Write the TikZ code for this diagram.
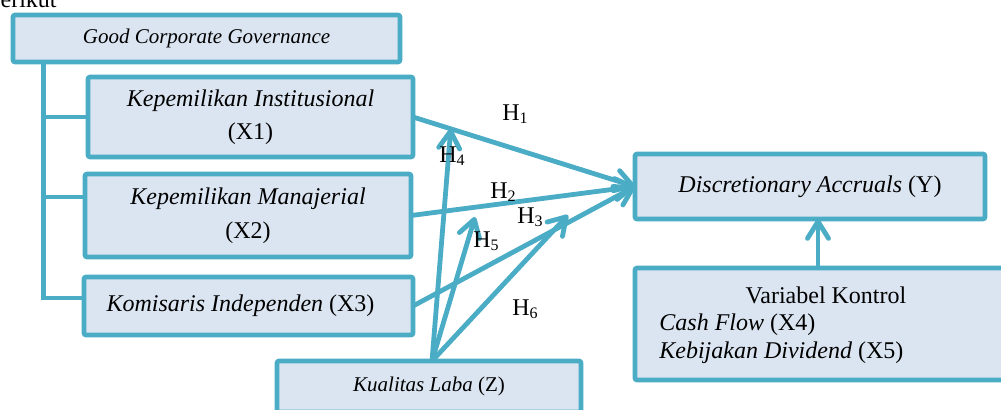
\documentclass[tikz,border=0pt]{standalone}
\usepackage{fontspec}
\setmainfont{Liberation Serif}
\usetikzlibrary{arrows.meta,calc}
\definecolor{bcol}{HTML}{4BACC6}
\definecolor{fcol}{HTML}{DBE5F1}
\begin{document}
\begin{tikzpicture}[x=0.5pt,y=-0.5pt,
 box/.style={draw=bcol, fill=fcol, line width=2.3pt, inner sep=0pt, outer sep=0pt, rounded corners=1pt, align=center, font=\fontsize{12}{16.75}\selectfont},
 smalltext/.style={font=\fontsize{10.5}{12}\selectfont},
 plain/.style={inner sep=0pt, font=\fontsize{12}{14}\selectfont},
 conn/.style={draw=bcol, line width=2.1pt},
 arr/.style={draw=bcol, line width=2.4pt, -{Straight Barb[length=8.5pt,width=10.5pt,round]}},
 hl/.style={inner sep=0pt, anchor=base west, font=\fontsize{12}{14}\selectfont}]
\useasboundingbox (0,0) rectangle (1001,409);
\clip (0,0) rectangle (1001,409);
\fill[white] (0,0) rectangle (1001,409);
\node[plain, anchor=base east] (top) at (57,7) {berikut};
% boxes
\node[box, smalltext, minimum width=193.5pt, minimum height=23.5pt] (G) at (206.5,38.5) {\textit{Good Corporate Governance}};
\node[box, minimum width=162.5pt, minimum height=40pt] (X1) at (250.5,117) {\textit{Kepemilikan Institusional}\\(X1)};
\node[box, minimum width=163pt, minimum height=41.5pt] (X2) at (248,215.5) {\textit{Kepemilikan Manajerial}\\(X2)};
\node[box, minimum width=164.5pt, minimum height=29pt] (X3) at (248.5,306) {\textit{Komisaris Independen} (X3)\hspace*{8pt}};
\node[box, smalltext, minimum width=152pt, minimum height=25.5pt] (Z) at (429,386.5) {\textit{Kualitas Laba} (Z)};
\node[box, minimum width=175pt, minimum height=32.5pt] (Y) at (810,186.5) {\textit{Discretionary Accruals} (Y)};
\node[box, minimum width=188.5pt, minimum height=56pt] (C) at (823.5,324) {};
\node[plain, anchor=base] (Ct) at (826,303) {Variabel Kontrol};
\node[plain, anchor=base west] (C1) at (659,330) {\textit{Cash Flow} (X4)};
\node[plain, anchor=base west] (C2) at (659,358) {\textit{Kebijakan Dividend} (X5)};
% GCG tree
\coordinate (sp) at (43.5,0);
\draw[conn] (G.south -| sp) -- (sp |- 0,298) -- (X3.west |- 0,298);
\draw[conn] (sp |- X1.west) -- (X1.west);
\draw[conn] (sp |- 0,197) -- (X2.west |- 0,197);
% main arrows
\draw[arr] (X1.east) -- (Y.west);
\draw[arr] (X2.east) -- (Y.west);
\draw[arr] (X3.east) -- (Y.west);
% moderation arrows
\coordinate (h4) at ($(X1.east)!0.17!(Y.west)$);
\coordinate (h5) at (475,217);
\coordinate (h6) at (568,215);
\coordinate (zs) at (432,361);
\draw[arr] (zs) -- (h4);
\draw[arr] (zs) -- (h5);
\draw[arr] (zs) -- (h6);
% control arrow
\coordinate (cx) at (818,0);
\draw[arr] (C.north -| cx) -- (Y.south -| cx);
% labels
\node[hl] (H1) at (502,120) {H\textsubscript{1}};
\node[hl] (H4) at (439,162) {H\textsubscript{4}};
\node[hl] (H2) at (490,198) {H\textsubscript{2}};
\node[hl] (H3) at (517,223) {H\textsubscript{3}};
\node[hl] (H5) at (473,247) {H\textsubscript{5}};
\node[hl] (H6) at (512,315) {H\textsubscript{6}};
\end{tikzpicture}
\end{document}
